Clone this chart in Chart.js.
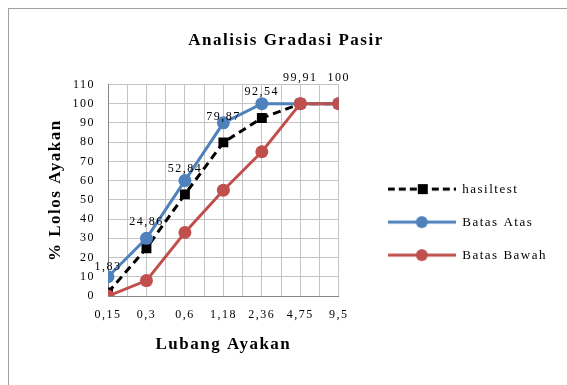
<!DOCTYPE html>
<html>
<head>
    <script src="https://cdn.jsdelivr.net/npm/chart.js@4.4.0/dist/chart.umd.min.js"></script>
    <style>
        body { margin: 0; background: #fff; }
        #frame {
            position: absolute;
            left: 8px;
            top: 8px;
            width: 620px;
            height: 420px;
            border-top: 1px solid #a0a0a0;
            border-left: 1px solid #a0a0a0;
        }
        #wrap { position: absolute; left: 0; top: 0; width: 567px; height: 385px; }
    </style>
</head>
<body>
<div id="frame"></div>
<div id="wrap">
    <canvas id="myChart" width="567" height="385"></canvas>
</div>

<script>
    // sieve sizes (mm) and % passing
    const sieveSizes = ['0,15', '0,3', '0,6', '1,18', '2,36', '4,75', '9,5'];
    const hasilTest = [1.83, 24.86, 52.84, 79.87, 92.54, 99.91, 100];
    const batasAtas = [10, 30, 60, 90, 100, 100, 100];
    const batasBawah = [0, 8, 33, 55, 75, 100, 100];
    const yMin = 0, yMax = 110, yStep = 10;

    const serif = "'Liberation Serif', 'Times New Roman', serif";
    const blue = '#4f81bd';
    const red = '#c0504d';
    const padLeft = 15;

    Chart.defaults.font.family = serif;
    Chart.defaults.color = '#000';

    function toPoints(arr) {
        return arr.map((v, i) => ({x: i, y: v}));
    }

    // little line+marker pictures for the legend
    function legendIcon(color, dashed, shape) {
        const c = document.createElement('canvas');
        c.width = 68;
        c.height = 14;
        const g = c.getContext('2d');
        g.strokeStyle = color;
        g.lineWidth = 3;
        if (dashed) g.setLineDash([7, 4]);
        g.beginPath();
        g.moveTo(0, 7);
        g.lineTo(68, 7);
        g.stroke();
        g.fillStyle = color;
        if (shape === 'rect') {
            g.fillRect(30, 2, 10, 10);
        } else {
            g.beginPath();
            g.arc(34, 7, 6, 0, Math.PI * 2);
            g.fill();
        }
        return c;
    }
    const icons = [legendIcon('#000', true, 'rect'), legendIcon(blue, false, 'circle'), legendIcon(red, false, 'circle')];

    const spacing = {
        id: 'spacing',
        beforeUpdate(chart) { chart.ctx.letterSpacing = '1.5px'; },
        beforeDraw(chart) { chart.ctx.letterSpacing = '1.5px'; }
    };

    const valueLabels = {
        id: 'valueLabels',
        afterDatasetsDraw(chart) {
            const ctx = chart.ctx;
            const meta = chart.getDatasetMeta(0);
            ctx.save();
            ctx.font = '12px ' + serif;
            ctx.fillStyle = '#000';
            ctx.textAlign = 'center';
            ctx.textBaseline = 'middle';
            meta.data.forEach((pt, i) => {
                ctx.fillText(String(hasilTest[i]).replace('.', ','), pt.x, pt.y - 26);
            });
            ctx.restore();
        }
    };

    const ctx = document.getElementById('myChart').getContext('2d');
    const myChart = new Chart(ctx, {
        type: 'line',
        data: {
            datasets: [
                {
                    label: 'hasiltest',
                    data: toPoints(hasilTest),
                    borderColor: '#000',
                    backgroundColor: '#000',
                    borderWidth: 3,
                    borderDash: [8, 5],
                    pointStyle: 'rect',
                    pointRadius: 7,
                    pointBorderWidth: 0,
                    order: 3
                },
                {
                    label: 'Batas Atas',
                    data: toPoints(batasAtas),
                    borderColor: blue,
                    backgroundColor: blue,
                    borderWidth: 3,
                    pointRadius: 6.5,
                    pointBorderWidth: 0,
                    order: 2
                },
                {
                    label: 'Batas Bawah',
                    data: toPoints(batasBawah),
                    borderColor: red,
                    backgroundColor: red,
                    borderWidth: 3,
                    pointRadius: 6.5,
                    pointBorderWidth: 0,
                    order: 1
                }
            ]
        },
        options: {
            responsive: false,
            animation: false,
            layout: {padding: {left: padLeft, right: 10, top: 0, bottom: 25}},
            plugins: {
                title: {
                    display: true,
                    text: 'Analisis Gradasi Pasir',
                    color: '#000',
                    font: {size: 17, weight: 'bold'},
                    padding: {top: 30, bottom: 34}
                },
                legend: {
                    position: 'right',
                    align: 'center',
                    maxWidth: 230,
                    // empty title only pushes the entries down
                    title: {display: true, text: ' ', font: {size: 1}, padding: {top: 83, bottom: 0}},
                    labels: {
                        color: '#000',
                        font: {size: 13},
                        padding: 20,
                        usePointStyle: true,
                        pointStyleWidth: 68,
                        generateLabels(chart) {
                            const items = Chart.defaults.plugins.legend.labels.generateLabels(chart);
                            items.sort((a, b) => a.datasetIndex - b.datasetIndex);
                            items.forEach((it) => { it.pointStyle = icons[it.datasetIndex]; });
                            return items;
                        }
                    }
                },
                tooltip: {enabled: false}
            },
            scales: {
                x: {
                    type: 'linear',
                    min: 0,
                    max: sieveSizes.length - 1,
                    afterFit(scale) { scale.height = 64; },
                    ticks: {
                        stepSize: 0.5,
                        autoSkip: false,
                        maxRotation: 0,
                        padding: 12,
                        font: {size: 12},
                        callback: (v) => Number.isInteger(v) ? sieveSizes[v] : ''
                    },
                    grid: {color: '#c4c4c4', drawTicks: false},
                    border: {color: '#868686'},
                    title: {
                        display: true,
                        text: 'Lubang Ayakan',
                        font: {size: 17, weight: 'bold'},
                        padding: {top: 0, bottom: 5}
                    }
                },
                y: {
                    min: yMin,
                    max: yMax,
                    afterFit(scale) { scale.width = 108 - padLeft; },
                    ticks: {stepSize: yStep, padding: 13, font: {size: 12}},
                    grid: {color: '#c4c4c4', drawTicks: false},
                    border: {color: '#868686'},
                    title: {
                        display: true,
                        text: '% Lolos Ayakan',
                        font: {size: 17, weight: 'bold'},
                        padding: {top: 45 - padLeft, bottom: 0}
                    }
                },
                gap: {
                    type: 'linear',
                    position: 'right',
                    afterFit(scale) { scale.width = 29; },
                    ticks: {display: false},
                    grid: {display: false},
                    border: {display: false}
                }
            }
        },
        plugins: [spacing, valueLabels]
    });
</script>
</body>
</html>
